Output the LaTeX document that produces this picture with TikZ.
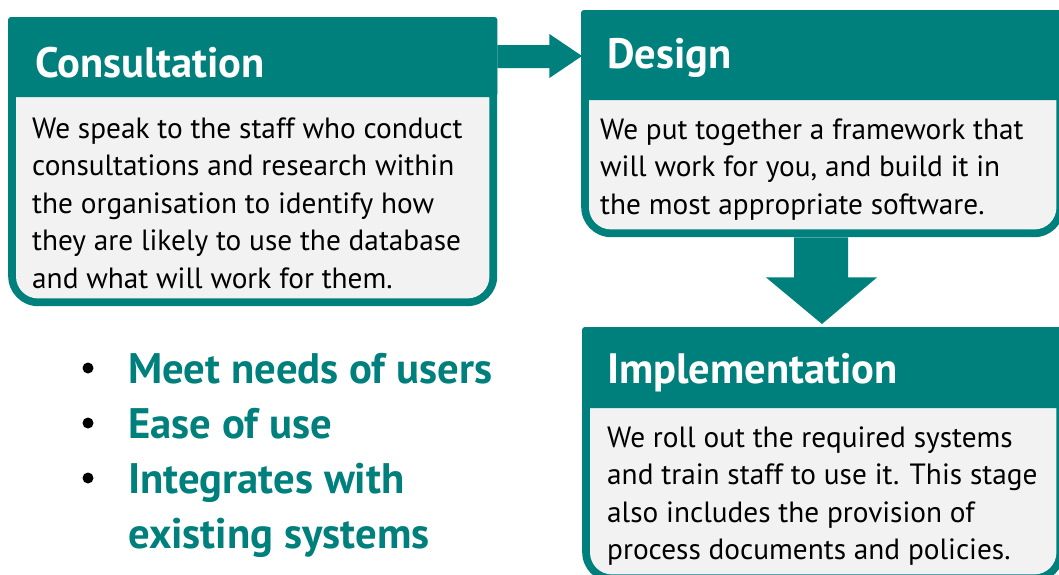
\documentclass[tikz,border=0pt]{standalone}
\usepackage{fontspec}
\setmainfont{PT Sans}
\usetikzlibrary{positioning,calc}

\definecolor{stageteal}{RGB}{0,128,124}
\definecolor{stagegrey}{RGB}{242,242,242}

\tikzset{
  stage/.style={fill=stageteal, rounded corners=30pt, inner sep=0pt, anchor=north west},
  stagetitle/.style={anchor=base west, inner sep=0pt, text=white, font=\fontsize{42.5}{50}\selectfont\bfseries},
  stagetext/.style={anchor=north west, inner sep=0pt, align=left, font=\fontsize{29.3}{37.5}\selectfont},
  point/.style={anchor=north west, inner sep=0pt, align=left, text=stageteal, font=\fontsize{42.7}{55}\selectfont\bfseries},
  dot/.style={circle, fill=black, inner sep=0pt, minimum size=11pt},
}

\begin{document}
\begin{tikzpicture}[x=1pt,y=-1pt]
\useasboundingbox (0,0) rectangle (1059,574);

% Boxes: teal frame, grey body, teal header
\node[stage, minimum width=489pt, minimum height=289pt] (cons) at (8,17) {};
\node[stage, minimum width=483pt, minimum height=227pt] (design) at (581,10) {};
\node[stage, minimum width=482pt, minimum height=255pt] (impl) at (582,327) {};

\foreach \b/\h in {cons/80, design/90, impl/81}{
  \fill[stagegrey, rounded corners=22pt] ($(\b.north west)+(8,20)$) rectangle ($(\b.south east)+(-8,-8)$);
  \fill[stageteal, rounded corners=3pt] (\b.north west) rectangle ($(\b.north east)+(0,\h)$);
}

% Titles
\node[stagetitle] (constitle) at ($(cons.north west)+(27,60)$) {Consultation};
\node[stagetitle] (designtitle) at ($(design.north west)+(26,58)$) {Design};
\node[stagetitle] (impltitle) at ($(impl.north west)+(25,56)$) {Implementation};

% Body texts (first baseline 26.25 below the top, from the strut)
\node[stagetext] (constext) at ($(cons.north west)+(24,121-26.25)$)
  {\strut We speak to the staff who conduct\\consultations and research within\\the organisation to identify how\\they are likely to use the database\\and what will work for them.};
\node[stagetext] (designtext) at ($(design.north west)+(19,129-26.25)$)
  {\strut We put together a framework that\\will work for you, and build it in\\the most appropriate software.};
\node[stagetext] (impltext) at ($(impl.north west)+(25,120-26.25)$)
  {\strut We roll out the required systems\\and train staff to use it. This stage\\also includes the provision of\\process documents and policies.};

% Block arrows
\fill[stageteal] ($(cons.north east)+(0,28)$) -- ++(52,0) -- ++(0,-11) -- ($(design.north west)+(1,46)$)
  -- ($(cons.north east)+(52,61)$) -- ++(0,-10) -- ($(cons.north east)+(0,51)$) -- cycle;
\fill[stageteal] ($(design.south west)+(213,0)$) -- ++(0,40) -- ++(-28,0) -- ($(impl.north west)+(240,-3)$)
  -- ($(design.south west)+(296,40)$) -- ++(-29,0) -- ($(design.south west)+(267,0)$) -- cycle;

% Key points (first baseline 38.5 below the top, from the strut)
\node[point] (p1) at (128,383-38.5) {\strut Meet needs of users};
\node[point] (p2) at (128,438-38.5) {\strut Ease of use};
\node[point] (p3) at (128,493-38.5) {\strut Integrates with\\existing systems};
\foreach \p in {p1,p2,p3}
  \node[dot] at ($(\p.north west)+(-40,38.5-15)$) {};
\end{tikzpicture}
\end{document}
